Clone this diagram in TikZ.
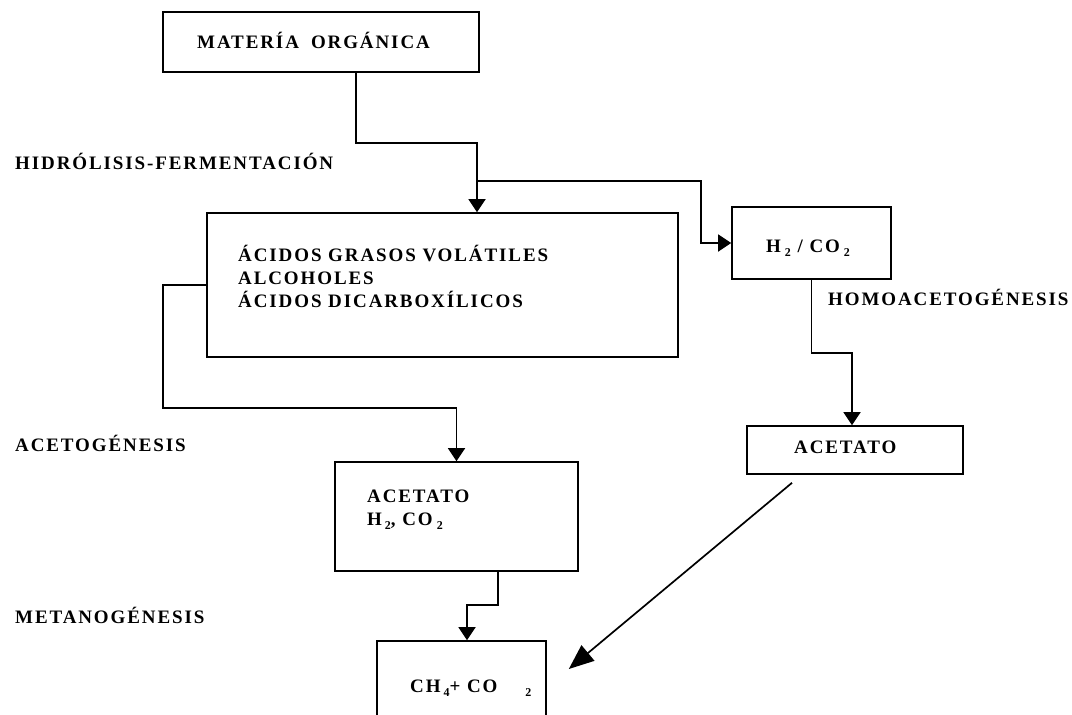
\documentclass[tikz,border=0pt]{standalone}
\usepackage{fontspec}
\setmainfont{Liberation Serif}[LetterSpace=10]
\usetikzlibrary{arrows.meta}
\newcommand{\lowsub}[1]{\raisebox{-4pt}{\fontsize{12}{12}\selectfont #1}}

\begin{document}
\begin{tikzpicture}[x=1pt,y=-1pt,
  box/.style={draw,line width=1.6pt,rectangle,inner sep=0pt},
  lbl/.style={anchor=base west,inner sep=0pt,font=\fontsize{19}{23}\selectfont\bfseries},
  arr/.style={line width=1.6pt,-{Triangle[length=13pt,width=17pt]}},
  bigarr/.style={line width=1.7pt,-{Triangle[length=25pt,width=20pt]}}]
\useasboundingbox (0,0) rectangle (1072,715);
\clip (0,0) rectangle (1072,715);
% boxes
\node[box,minimum width=316pt,minimum height=60pt] (mo) at (321,42) {};
\node[box,minimum width=471pt,minimum height=144pt] (agv) at (442.5,285) {};
\node[box,minimum width=159pt,minimum height=72pt] (gas) at (811.5,243) {};
\node[box,minimum width=243pt,minimum height=109pt] (acet1) at (456.5,516.5) {};
\node[box,minimum width=216pt,minimum height=48pt] (acet2) at (855,450) {};
\node[box,minimum width=169pt,minimum height=118pt] (metano) at (461.5,700) {};
% texts in the boxes
\node[lbl] (tmo) at (197,48) {MATERÍA\hspace{12pt}ORGÁNICA};
\node[lbl] (tagv1) at (238,261) {ÁCIDOS GRASOS VOLÁTILES};
\node[lbl] (tagv2) at (238,284) {ALCOHOLES};
\node[lbl] (tagv3) at (238,307) {ÁCIDOS DICARBOXÍLICOS};
\node[lbl] (tgas) at (766,252) {H\hspace{4pt}\lowsub{2} / CO\hspace{4pt}\lowsub{2}};
\node[lbl] (tacet1a) at (367,502) {ACETATO};
\node[lbl] (tacet1b) at (367,525) {H\hspace{3pt}\lowsub{2}, CO\hspace{4pt}\lowsub{2}};
\node[lbl] (tacet2) at (794,453) {ACETATO};
\node[lbl] (tmetano) at (410,692) {CH\hspace{3pt}\lowsub{4}+ CO\hspace{28pt}\lowsub{2}};
% stage names
\node[lbl] (lhidro) at (15,169) {HIDRÓLISIS-FERMENTACIÓN};
\node[lbl] (lhomo) at (828,305) {HOMOACETOGÉNESIS};
\node[lbl] (lacetog) at (15,451) {ACETOGÉNESIS};
\node[lbl] (lmetano) at (15,623) {METANOGÉNESIS};
% connectors
\draw[arr] ([xshift=35pt]mo.south) -- ++(0,70) -| ([xshift=34.5pt]agv.north);
\coordinate (split) at (477,181);
\draw[arr] (split) -| ([xshift=-30pt]gas.west) -- (gas.west);
\draw[arr] (agv.west) -- ++(-43,0) -- ++(0,123) -| (acet1.north);
\draw[arr] (gas.south) -- ++(0,73) -| ([xshift=-3pt]acet2.north);
\draw[arr] ([xshift=41.5pt]acet1.south) -- ++(0,33) -| ([xshift=5.5pt]metano.north);
\draw[bigarr] ([xshift=-63pt,yshift=-8pt]acet2.south) -- ([xshift=22pt,yshift=31pt]metano.east);
\end{tikzpicture}
\end{document}
